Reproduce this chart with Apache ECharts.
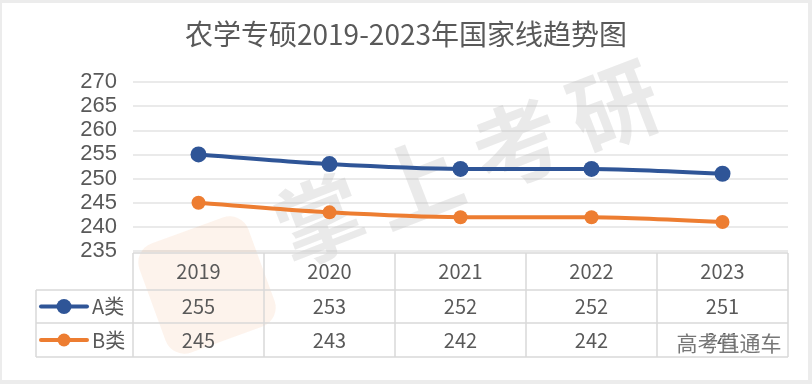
<!DOCTYPE html>
<html><head><meta charset="utf-8">
<script src="https://cdn.jsdelivr.net/npm/echarts@6/dist/echarts.min.js"></script>
<style>html,body{margin:0;padding:0;background:#ececec}#c{width:812px;height:384px}</style>
</head><body><div id="c"></div>
<script>
const titleText = '农学专硕2019-2023年国家线趋势图';
const categories = ['2019', '2020', '2021', '2022', '2023'];
const seriesNames = ['A类', 'B类'];
const seriesA = [255, 253, 252, 252, 251];
const seriesB = [245, 243, 242, 242, 241];
const yMin = 235, yMax = 270, yStep = 5;
const colors = ['#2F5597', '#ED7D31'];

// layout constants
const gridL = 133, gridR = 788, gridT = 82, gridB = 251;
const tableTop = 253, rowYs = [290, 323, 357], legendL = 36;
const colW = (gridR - gridL) / categories.length;
const TXT = '#595959', LINE = '#d9d9d9';
const cjk = '"Noto Sans CJK SC", "Microsoft YaHei", sans-serif';

const chart = echarts.init(document.getElementById('c'), null, {renderer: 'canvas'});

const g = [];
g.push({type: 'rect', z: -10, shape: {x: 2, y: 3, width: 806, height: 377}, style: {fill: '#ffffff'}});
// watermark
const wm = '掌上考研'.split('');
const wmPos = [[320, 220], [417, 183], [517, 144], [614, 106]];
wm.forEach((ch, i) => g.push({type: 'text', z: 1, x: wmPos[i][0], y: wmPos[i][1], rotation: 0.37,
  style: {text: ch, fill: 'rgba(185,185,185,0.3)', font: 'bold 88px ' + cjk, textAlign: 'center', textVerticalAlign: 'middle'}}));
g.push({type: 'rect', z: 1, x: 207, y: 285, rotation: 0.35, shape: {x: -58, y: -58, width: 116, height: 116, r: 20},
  style: {fill: 'rgba(237,125,49,0.09)'}});

// table lines
const hl = (x1, x2, y) => g.push({type: 'line', z: 3, shape: {x1, y1: y, x2, y2: y}, style: {stroke: LINE, lineWidth: 1.5}});
const vl = (x, y1, y2) => g.push({type: 'line', z: 3, shape: {x1: x, y1, x2: x, y2}, style: {stroke: LINE, lineWidth: 1.5}});
hl(gridL, gridR, tableTop);
rowYs.forEach(y => hl(legendL, gridR, y));
vl(legendL, rowYs[0], rowYs[2]);
for (let i = 0; i <= categories.length; i++) vl(gridL + i * colW, tableTop, rowYs[2]);

const cellText = (text, x, y) => g.push({type: 'text', z: 4, x, y,
  style: {text, fill: TXT, font: '20px ' + cjk, textAlign: 'center', textVerticalAlign: 'middle'}});
categories.forEach((c, i) => cellText(c, gridL + (i + 0.5) * colW, (tableTop + rowYs[0]) / 2));
[seriesA, seriesB].forEach((arr, r) => {
  const yc = (rowYs[r] + rowYs[r + 1]) / 2;
  arr.forEach((v, i) => cellText(String(v), gridL + (i + 0.5) * colW, yc));
  g.push({type: 'line', z: 4, shape: {x1: 41, y1: yc, x2: 87, y2: yc}, style: {stroke: colors[r], lineWidth: 4, lineCap: 'round'}});
  g.push({type: 'circle', z: 4, shape: {cx: 64, cy: yc, r: r === 0 ? 7.5 : 6.5}, style: {fill: colors[r]}});
  g.push({type: 'text', z: 4, x: 92, y: yc, style: {text: seriesNames[r], fill: TXT, font: '20px ' + cjk, textAlign: 'left', textVerticalAlign: 'middle'}});
});
// corner watermark text
g.push({type: 'text', z: 5, x: 729, y: 343, style: {text: '高考直通车', fill: 'rgba(95,95,95,0.85)', font: '21px ' + cjk,
  textAlign: 'center', textVerticalAlign: 'middle', stroke: 'rgba(255,255,255,0.6)', lineWidth: 2}});

chart.setOption({
  animation: false,
  backgroundColor: 'transparent',
  title: {text: titleText, left: 'center', top: 15,
    textStyle: {color: TXT, fontSize: 28, fontWeight: 'normal', fontFamily: cjk}},
  grid: {left: gridL, right: 812 - gridR, top: gridT, bottom: 384 - gridB},
  xAxis: {type: 'category', data: categories, boundaryGap: true,
    axisLine: {show: false}, axisTick: {show: false}, axisLabel: {show: false}, splitLine: {show: false}},
  yAxis: {type: 'value', min: yMin, max: yMax, interval: yStep,
    axisLine: {show: false}, axisTick: {show: false},
    axisLabel: {color: TXT, fontSize: 22, fontFamily: '"Liberation Sans", Arial, sans-serif', margin: 16},
    splitLine: {lineStyle: {color: '#e3e3e3', width: 1.5}}},
  series: [
    {name: seriesNames[0], type: 'line', data: seriesA, smooth: 0.25, symbol: 'circle', symbolSize: 16, z: 6,
      lineStyle: {color: colors[0], width: 4}, itemStyle: {color: colors[0]}},
    {name: seriesNames[1], type: 'line', data: seriesB, smooth: 0.25, symbol: 'circle', symbolSize: 14, z: 6,
      lineStyle: {color: colors[1], width: 4}, itemStyle: {color: colors[1]}}
  ],
  graphic: {elements: g}
});
</script></body></html>
